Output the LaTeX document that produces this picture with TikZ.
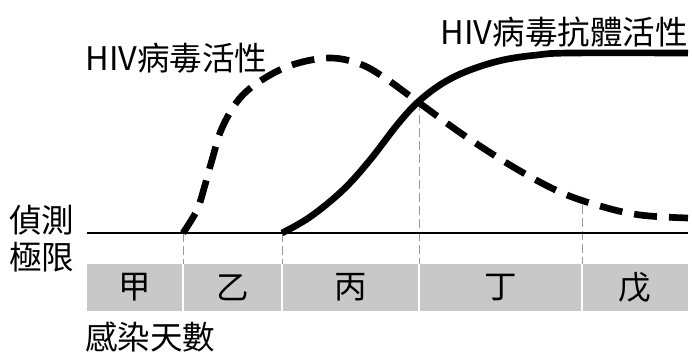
\documentclass[tikz,border=0pt]{standalone}
\usepackage{fontspec}
\setmainfont{Noto Sans CJK TC}
\definecolor{bandgray}{RGB}{200,200,200}
\begin{document}
\begin{tikzpicture}[font=\fontsize{18.5}{22}\selectfont,
        curve/.style={line width=3.8pt},
        virus/.style={curve, dash pattern=on 0.46cm off 0.24cm},
        guide/.style={gray!80, line width=0.5pt, dash pattern=on 0.18cm off 0.08cm}]
                \useasboundingbox (-1.74,-2.40) rectangle (12.10,4.66);
                % time band
                \fill[bandgray] (0,-0.62) rectangle (12.02,-1.56);
                \foreach \x in {1.92,3.90,6.64,9.90}
                    \draw[white, line width=1.1pt] (\x,-0.62)--(\x,-1.56);
                \node (jia)  at (0.96,-1.09) {甲};
                \node (yi)   at (2.91,-1.09) {乙};
                \node (bing) at (5.27,-1.09) {丙};
                \node (ding) at (8.27,-1.09) {丁};
                \node (wu)   at (10.96,-1.09) {戊};
                % guides
                \coordinate (cross) at (6.64,2.62);
                \coordinate (late) at (9.90,0.56);
                \draw[guide] (1.92,0)--(1.92,-0.62);
                \draw[guide] (3.90,0)--(3.90,-0.62);
                \draw[guide] (cross)--(6.64,-0.62);
                \draw[guide] (late)--(9.90,-0.62);
                % detection limit
                \draw[line width=0.85pt] (0,0)--(12.02,0);
                % curves
                \draw[virus] plot[smooth, tension=0.6] coordinates {(1.92,0) (2.20,0.46) (2.36,0.96) (2.50,1.46)
                    (2.70,2.10) (3.06,2.70) (3.56,3.10) (4.16,3.38) (4.86,3.50) (5.46,3.38) (5.96,3.10)
                    (6.62,2.62) (7.56,1.94) (8.56,1.30) (9.46,0.82) (10.26,0.54) (11.06,0.36) (12.02,0.30)};
                \draw[curve] plot[smooth, tension=0.6] coordinates {(3.90,0) (4.46,0.32) (5.12,0.86) (5.66,1.46)
                    (6.20,2.16) (6.62,2.62) (7.12,3.00) (7.66,3.26) (8.32,3.46) (9.00,3.56) (9.66,3.60) (12.02,3.60)};
                % labels
                \node[anchor=west, inner sep=0pt] (virusname) at (-0.04,3.50) {HIV病毒活性};
                \node[anchor=east, inner sep=0pt] (antiname) at (12.02,4.02) {HIV病毒抗體活性};
                \node[align=center, inner sep=0pt] (limit) at (-0.90,-0.11) {偵測\\[-0.02cm]極限};
                \node[anchor=west, inner sep=0pt] (days) at (-0.04,-2.08) {感染天數};
\end{tikzpicture}
\end{document}
